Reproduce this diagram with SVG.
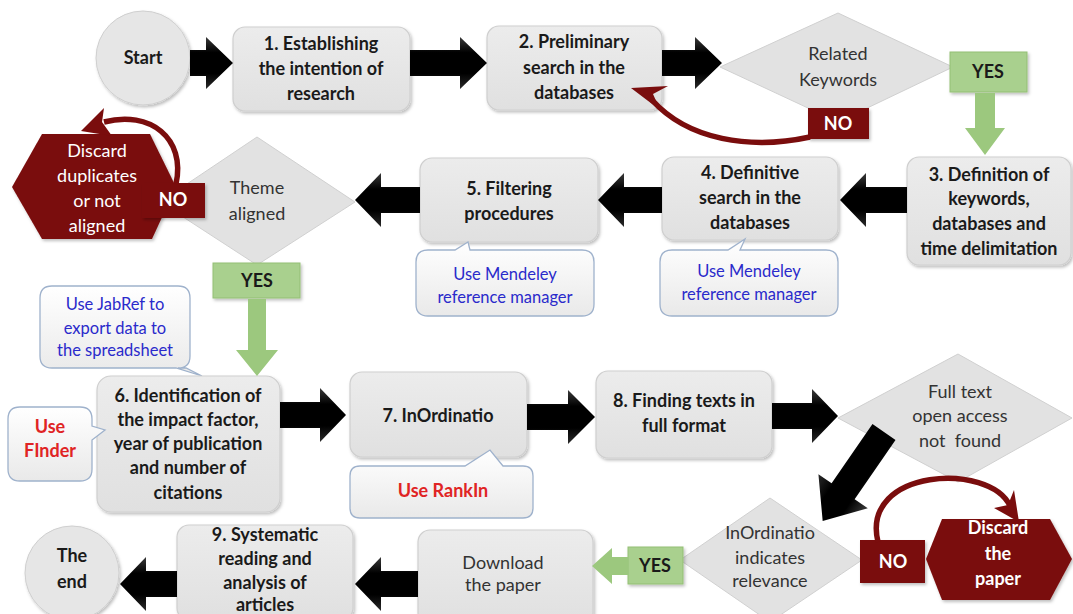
<svg xmlns="http://www.w3.org/2000/svg" width="1073" height="614" viewBox="0 0 1073 614">
<defs>
<linearGradient id="gbox" x1="0" y1="0" x2="0" y2="1"><stop offset="0" stop-color="#ececec"/><stop offset="1" stop-color="#e0e0e0"/></linearGradient>
<linearGradient id="gcall" x1="0" y1="0" x2="0" y2="1"><stop offset="0" stop-color="#ffffff"/><stop offset="1" stop-color="#e9e9e9"/></linearGradient>
<linearGradient id="garr" x1="0" y1="0" x2="0" y2="1"><stop offset="0" stop-color="#3a3a3a"/><stop offset="0.3" stop-color="#000"/><stop offset="0.7" stop-color="#000"/><stop offset="1" stop-color="#2a2a2a"/></linearGradient>
<filter id="sh" x="-10%" y="-10%" width="125%" height="130%"><feDropShadow dx="1.5" dy="2" stdDeviation="1.5" flood-color="#000" flood-opacity="0.25"/></filter>
</defs>
<style>
.box{fill:url(#gbox);stroke:#cfcfcf;stroke-width:1.2}
.dia{fill:#e2e2e2;stroke:#d0d0d0;stroke-width:1}
.call{fill:url(#gcall);stroke:#9fb2cc;stroke-width:1.3}
.arr{fill:url(#garr)}
.red{fill:#7a0d0d}
.redc{fill:none;stroke:#7a0d0d;stroke-width:5.5}
.grn{fill:#a9d08e;stroke:#93bf75;stroke-width:1}
.garw{fill:#9cc87e}
text{font-family:Lato,"Liberation Sans",sans-serif;text-anchor:middle}
.b{font-weight:bold;font-size:18px;fill:#1a1a1a}
.n{font-size:18px;fill:#333}
.w{font-weight:bold;font-size:18px;fill:#fff}
.wn{font-size:18px;fill:#fff}
.blue{font-size:16.5px;fill:#2a2acb}
.rt{font-weight:bold;font-size:18px;fill:#e02424}
</style>

<g id="start"><circle cx="143" cy="58" r="47" fill="#e6e6e6" stroke="#cfcfcf" filter="url(#sh)"/><text class="b" x="143" y="64">Start</text></g>
<g id="step1"><rect class="box" x="233" y="27" width="177" height="84" rx="12" filter="url(#sh)"/>
<text class="b" x="321" y="50">1. Establishing</text><text class="b" x="321" y="75">the intention of</text><text class="b" x="321" y="100">research</text></g>
<g id="step2"><rect class="box" x="487" y="26" width="175" height="84" rx="12" filter="url(#sh)"/>
<text class="b" x="574" y="48">2. Preliminary</text><text class="b" x="574" y="74">search in the</text><text class="b" x="574" y="99">databases</text></g>
<g id="dec-keywords"><polygon class="dia" points="720,67 838,13 953,67 838,122"/>
<text class="n" x="838" y="60">Related</text><text class="n" x="838" y="86">Keywords</text></g>
<g id="yes1"><rect class="grn" x="950" y="52" width="77" height="40" filter="url(#sh)"/><text class="b" x="988" y="78">YES</text></g>
<g id="no1"><rect class="red" x="808" y="108" width="61" height="31" filter="url(#sh)"/><text class="w" x="838" y="130">NO</text></g>

<g id="step3"><rect class="box" x="907" y="157" width="164" height="108" rx="12" filter="url(#sh)"/>
<text class="b" x="989" y="181">3. Definition of</text><text class="b" x="989" y="205">keywords,</text><text class="b" x="989" y="230">databases and</text><text class="b" x="989" y="255">time delimitation</text></g>
<g id="step4"><rect class="box" x="662" y="157" width="176" height="83" rx="12" filter="url(#sh)"/>
<text class="b" x="750" y="179">4. Definitive</text><text class="b" x="750" y="204">search in the</text><text class="b" x="750" y="229">databases</text></g>
<g id="note4"><path class="call" d="M672,250 L728,250 L745,239 L740,250 L826,250 Q838,250 838,262 L838,304 Q838,316 826,316 L672,316 Q660,316 660,304 L660,262 Q660,250 672,250 Z"/>
<text class="blue" x="749" y="277">Use Mendeley</text><text class="blue" x="749" y="300">reference manager</text></g>
<g id="step5"><rect class="box" x="420" y="158" width="178" height="84" rx="12" filter="url(#sh)"/>
<text class="b" x="509" y="195">5. Filtering</text><text class="b" x="509" y="220">procedures</text></g>
<g id="note5"><path class="call" d="M428,250 L455,250 L468,242 L470,250 L582,250 Q594,250 594,262 L594,304 Q594,316 582,316 L428,316 Q416,316 416,304 L416,262 Q416,250 428,250 Z"/>
<text class="blue" x="505" y="280">Use Mendeley</text><text class="blue" x="505" y="303">reference manager</text></g>
<g id="dec-theme"><polygon class="dia" points="160,202 257,137 355,202 257,265"/>
<text class="n" x="257" y="194">Theme</text><text class="n" x="257" y="220">aligned</text></g>
<g id="discard1"><polygon class="red" points="12,187 42,134 150,134 176,187 152,239 42,239" filter="url(#sh)"/>
<text class="wn" x="97" y="157">Discard</text><text class="wn" x="97" y="182">duplicates</text><text class="wn" x="97" y="207">or not</text><text class="wn" x="97" y="232">aligned</text></g>
<g id="no2"><rect class="red" x="142" y="183" width="63" height="35" filter="url(#sh)"/><text class="w" x="173" y="206">NO</text></g>
<g id="yes2"><rect class="grn" x="213" y="263" width="87" height="35" filter="url(#sh)"/><text class="b" x="257" y="287">YES</text></g>
<g id="note-jabref"><path class="call" d="M52,286 L178,286 Q190,286 190,298 L190,356 Q190,368 178,368 L186,368 L202,376 L176,368 L52,368 Q40,368 40,356 L40,298 Q40,286 52,286 Z"/>
<text class="blue" x="115" y="310">Use JabRef to</text><text class="blue" x="115" y="334">export data to</text><text class="blue" x="115" y="356">the spreadsheet</text></g>

<g id="step6"><rect class="box" x="97" y="376" width="183" height="136" rx="14" filter="url(#sh)"/>
<text class="b" x="188" y="402">6. Identification of</text><text class="b" x="188" y="426">the impact factor,</text><text class="b" x="188" y="450">year of publication</text><text class="b" x="188" y="474">and number of</text><text class="b" x="188" y="499">citations</text></g>
<g id="note-finder"><path class="call" d="M20,407 L80,407 Q92,407 92,419 L92,426 L105,430 L92,440 L92,469 Q92,481 80,481 L20,481 Q8,481 8,469 L8,419 Q8,407 20,407 Z"/>
<text class="rt" x="50" y="433">Use</text><text class="rt" x="50" y="457">FInder</text></g>
<g id="step7"><rect class="box" x="350" y="372" width="177" height="85" rx="12" filter="url(#sh)"/>
<text class="b" x="438" y="422">7. InOrdinatio</text></g>
<g id="note-rankin"><path class="call" d="M360,466 L465,466 L490,450 L503,466 L523,466 Q533,466 533,476 L533,508 Q533,518 523,518 L360,518 Q350,518 350,508 L350,476 Q350,466 360,466 Z"/>
<text class="rt" x="443" y="497">Use RankIn</text></g>
<g id="step8"><rect class="box" x="596" y="371" width="176" height="87" rx="12" filter="url(#sh)"/>
<text class="b" x="684" y="407">8. Finding texts in</text><text class="b" x="684" y="432">full format</text></g>
<g id="dec-fulltext"><polygon class="dia" points="838,418 958,354 1072,418 958,482"/>
<text class="n" x="960" y="398">Full text</text><text class="n" x="960" y="422">open access</text><text class="n" x="960" y="447" style="white-space:pre">not  found</text></g>

<g id="dec-relevance"><polygon class="dia" points="680,560 770,498 862,560 770,622"/>
<text class="n" x="770" y="539">InOrdinatio</text><text class="n" x="770" y="564">indicates</text><text class="n" x="770" y="587">relevance</text></g>
<g id="yes3"><rect class="grn" x="628" y="547" width="55" height="37" filter="url(#sh)"/><text class="b" x="655" y="572">YES</text></g>
<g id="no3"><rect class="red" x="860" y="540" width="65" height="43" filter="url(#sh)"/><text class="w" x="893" y="568">NO</text></g>
<g id="discard2"><polygon class="red" points="926,559 942,519 1050,519 1072,559 1050,600 942,600" filter="url(#sh)"/>
<text class="w" x="998" y="534">Discard</text><text class="w" x="998" y="560">the</text><text class="w" x="998" y="585">paper</text></g>
<g id="download"><rect class="box" x="418" y="530" width="175" height="95" rx="12" filter="url(#sh)"/>
<text class="n" x="503" y="569">Download</text><text class="n" x="503" y="591">the paper</text></g>
<g id="step9"><rect class="box" x="177" y="525" width="176" height="95" rx="12" filter="url(#sh)"/>
<text class="b" x="265" y="541">9. Systematic</text><text class="b" x="265" y="565">reading and</text><text class="b" x="265" y="589">analysis of</text><text class="b" x="265" y="611">articles</text></g>
<g id="end"><circle cx="72" cy="573" r="47" fill="#e6e6e6" stroke="#cfcfcf" filter="url(#sh)"/>
<text class="b" x="72" y="562">The</text><text class="b" x="72" y="588">end</text></g>

<g id="connectors">
<path class="arr" d="M190,50 L206,50 L206,37 L233,63 L206,89 L206,76 L190,76 Z"/>
<path class="arr" d="M410,50 L460,50 L460,37 L487,63 L460,89 L460,76 L410,76 Z"/>
<path class="arr" d="M662,50 L695,50 L695,37 L722,63 L695,89 L695,76 L662,76 Z"/>
<path class="garw" d="M975,93 L995,93 L995,128 L1005,128 L985,155 L965,128 L975,128 Z"/>
<path class="redc" d="M810,137 C750,150 688,140 652,100"/>
<path class="red" d="M631,88 L668,86 L653,94 L660,110 Z"/>
<path class="arr" d="M907,187 L866,187 L866,173 L840,200 L866,227 L866,213 L907,213 Z"/>
<path class="arr" d="M662,187 L624,187 L624,173 L598,200 L624,227 L624,213 L662,213 Z"/>
<path class="arr" d="M420,187 L381,187 L381,173 L355,200 L381,227 L381,213 L420,213 Z"/>
<path class="redc" d="M176,184 C186,138 150,110 104,122"/>
<path class="red" d="M81,131 L104,108 L102,122 L112,136 Z"/>
<path class="garw" d="M248,299 L266,299 L266,350 L278,350 L257,376 L236,350 L248,350 Z"/>
<path class="arr" d="M280,402 L320,402 L320,388 L346,415 L320,442 L320,428 L280,428 Z"/>
<path class="arr" d="M527,404 L568,404 L568,390 L595,417 L568,444 L568,430 L527,430 Z"/>
<path class="arr" d="M772,403 L812,403 L812,389 L838,416 L812,443 L812,429 L772,429 Z"/>
<path class="arr" transform="translate(884,432) rotate(124.6)" d="M0,-14 L72,-14 L72,-30 L108,0 L72,30 L72,14 L0,14 Z"/>
<path class="redc" d="M878,542 C860,468 990,462 1010,506"/>
<path class="red" d="M1019,522 L994,508 L1008,505 L1014,490 Z"/>
<path class="garw" d="M628,557 L612,557 L612,548 L592,566 L612,584 L612,575 L628,575 Z"/>
<path class="arr" d="M418,571 L381,571 L381,557 L355,584 L381,611 L381,597 L418,597 Z"/>
<path class="arr" d="M177,571 L146,571 L146,557 L120,584 L146,611 L146,597 L177,597 Z"/>
</g>
</svg>
